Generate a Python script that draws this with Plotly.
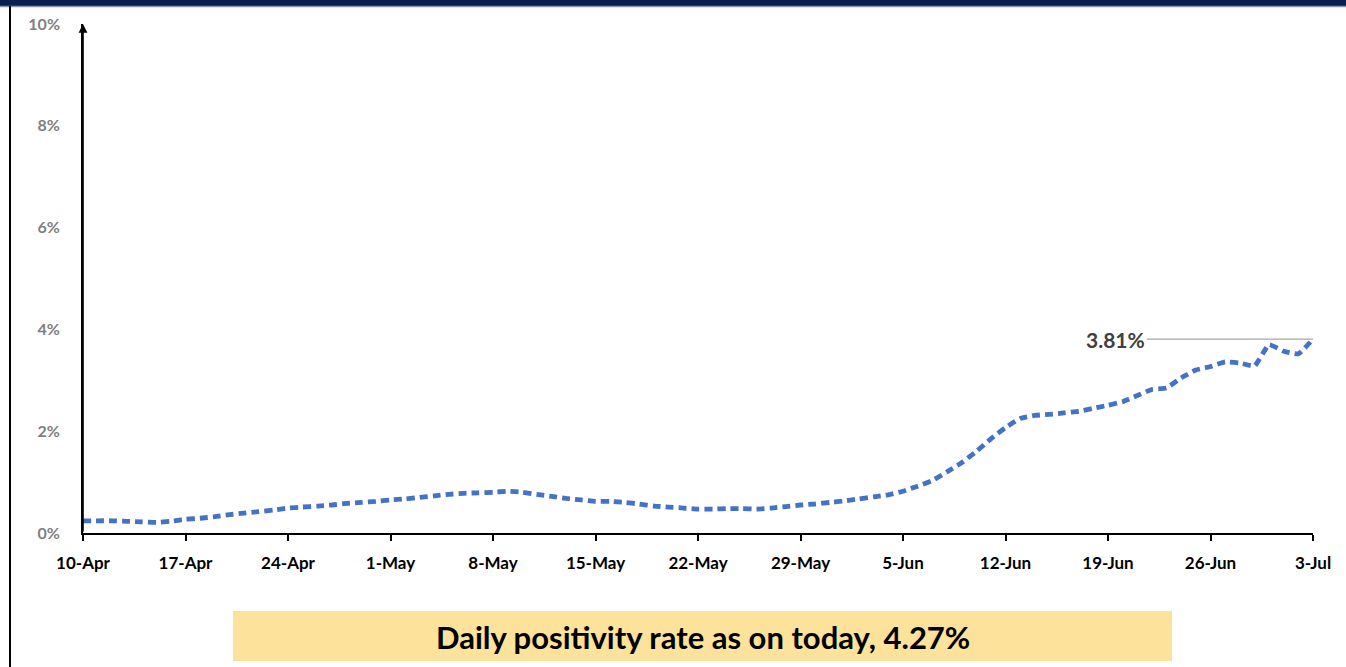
import pandas as pd
import plotly.graph_objects as go

W, H = 1346, 667
ML, MR, MT, MB = 83, 33, 24, 134

start_date = "2020-04-10"
end_date = "2020-07-03"
positivity = [
    0.24, 0.24, 0.24, 0.23, 0.22, 0.21, 0.23, 0.27, 0.29, 0.32,
    0.36, 0.39, 0.42, 0.45, 0.49, 0.51, 0.53, 0.55, 0.58, 0.60,
    0.62, 0.65, 0.67, 0.70, 0.73, 0.76, 0.78, 0.79, 0.80, 0.82,
    0.80, 0.76, 0.72, 0.68, 0.65, 0.62, 0.62, 0.60, 0.57, 0.53,
    0.51, 0.49, 0.47, 0.47, 0.48, 0.48, 0.47, 0.49, 0.52, 0.55,
    0.57, 0.60, 0.63, 0.67, 0.71, 0.75, 0.82, 0.92, 1.03, 1.20,
    1.38, 1.60, 1.85, 2.07, 2.25, 2.31, 2.33, 2.36, 2.39, 2.45,
    2.51, 2.58, 2.70, 2.82, 2.85, 3.05, 3.20, 3.27, 3.36, 3.34,
    3.28, 3.70, 3.57, 3.52, 3.81,
]
tick_dates = ["2020-04-10", "2020-04-17", "2020-04-24", "2020-05-01", "2020-05-08",
              "2020-05-15", "2020-05-22", "2020-05-29", "2020-06-05", "2020-06-12",
              "2020-06-19", "2020-06-26", "2020-07-03"]
tick_labels = ["10-Apr", "17-Apr", "24-Apr", "1-May", "8-May", "15-May", "22-May",
               "29-May", "5-Jun", "12-Jun", "19-Jun", "26-Jun", "3-Jul"]
y_ticks = [0, 2, 4, 6, 8, 10]
y_labels = ["0%", "2%", "4%", "6%", "8%", "10%"]
last_label = "3.81%"
banner_text = "Daily positivity rate as on today, 4.27%"

dates = pd.date_range(start_date, end_date, freq="D")

def px_x(p):
    return (p - ML) / (W - ML - MR)

def px_y(p):
    return (H - MB - p) / (H - MT - MB)

fig = go.Figure()
fig.add_trace(go.Scatter(
    x=dates, y=positivity, mode="lines",
    line=dict(color="#4472C4", width=4.8, dash="8px,5px", shape="spline", smoothing=0.4),
    hoverinfo="x+y", showlegend=False,
))

# label line + text for last value
fig.add_annotation(
    x=dates[-1], y=positivity[-1], xref="x", yref="y",
    ax=-166, ay=0, axref="pixel", ayref="pixel",
    text=last_label, showarrow=True, arrowhead=0, arrowwidth=1.2, arrowcolor="#a6a6a6",
    xanchor="right", yanchor="middle",
    font=dict(family="Lato", size=21, color="#404040", weight="bold"),
)

# y-axis arrow
fig.add_annotation(
    x=dates[0], y=y_ticks[-1], xref="x", yref="y",
    ax=dates[0], ay=0, axref="x", ayref="y",
    text="", showarrow=True, arrowhead=2, arrowsize=1.1, arrowwidth=1.6, arrowcolor="#000000",
)

# top navy band
fig.add_shape(type="rect", xref="paper", yref="paper",
              x0=px_x(0), x1=px_x(W), y0=px_y(6), y1=px_y(0),
              fillcolor="#0B1E4E", line=dict(width=0), layer="above")
fig.add_shape(type="line", xref="paper", yref="paper",
              x0=px_x(0), x1=px_x(W), y0=px_y(6.5), y1=px_y(6.5),
              line=dict(color="#8a96b8", width=1.5))
# left border
fig.add_shape(type="line", xref="paper", yref="paper",
              x0=px_x(10), x1=px_x(10), y0=px_y(H), y1=px_y(6),
              line=dict(color="#000000", width=2))
# banner
fig.add_shape(type="rect", xref="paper", yref="paper",
              x0=px_x(233), x1=px_x(1172), y0=px_y(661), y1=px_y(611),
              fillcolor="#FCE29A", line=dict(width=0))
fig.add_annotation(
    x=px_x(703), y=px_y(637), xref="paper", yref="paper",
    text=banner_text, showarrow=False, xanchor="center", yanchor="middle",
    font=dict(family="Lato", size=31, color="#000000", weight="bold"),
)

fig.update_layout(
    width=W, height=H,
    margin=dict(l=ML, r=MR, t=MT, b=MB),
    paper_bgcolor="#ffffff", plot_bgcolor="#ffffff",
    showlegend=False,
)
fig.update_xaxes(
    type="date", range=[dates[0], dates[-1]],
    tickmode="array", tickvals=tick_dates, ticktext=tick_labels,
    showline=True, linecolor="#000000", linewidth=2,
    ticks="outside", ticklen=6, tickwidth=1.5, tickcolor="#000000",
    ticklabelstandoff=8,
    tickfont=dict(family="Lato", size=17, color="#000000", weight="bold"),
    showgrid=False, zeroline=False,
)
fig.update_yaxes(
    range=[0, 10], tickmode="array", tickvals=y_ticks, ticktext=y_labels,
    showline=True, linecolor="#000000", linewidth=1.6,
    ticks="", ticklabelstandoff=18,
    tickfont=dict(family="Lato", size=16, color="#808080", weight="bold"),
    showgrid=False, zeroline=False,
)

fig.write_html(
    "out.html",
    config={"displayModeBar": False},
    post_script="document.body.style.margin='0';document.body.style.overflow='hidden';",
)
